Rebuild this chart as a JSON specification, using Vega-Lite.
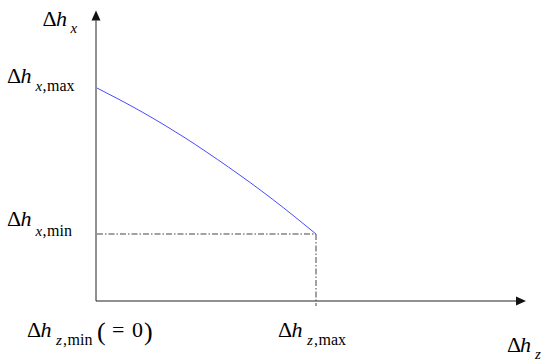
{
  "$schema": "https://vega.github.io/schema/vega-lite/v6.json",
  "width": 550,
  "height": 361,
  "padding": 0,
  "autosize": {"type": "none"},
  "background": "white",
  "config": {"view": {"stroke": null}, "text": {"font": "'Liberation Serif', 'Times New Roman', 'DejaVu Serif', serif"}},
  "datasets": {
    "axes": [
      {"x": 0, "y": 0, "x2": 0, "y2": 280.5},
      {"x": 0, "y": 0, "x2": 420, "y2": 0}
    ],
    "arrows": [
      {"x": 0, "y": 285.5, "dir": "up"},
      {"x": 425, "y": 0, "dir": "right"}
    ],
    "guides": [
      {"x": 1, "y": 67, "x2": 220, "y2": 67},
      {"x": 220, "y": 67, "x2": 220, "y2": -5}
    ],
    "curve": [
      {"x": 1, "y": 213},
      {"x": 23, "y": 201.6},
      {"x": 45, "y": 189.6},
      {"x": 67, "y": 176.8},
      {"x": 89, "y": 163.2},
      {"x": 110.5, "y": 149},
      {"x": 132.4, "y": 134},
      {"x": 154.3, "y": 118.4},
      {"x": 176.2, "y": 102},
      {"x": 198.1, "y": 84.8},
      {"x": 220, "y": 67}
    ],
    "labels": [
      {"text": "Δ", "x": -53.5, "y": 275, "style": "up", "level": "main"},
      {"text": "h", "x": -40, "y": 275, "style": "it", "level": "main"},
      {"text": "x", "x": -25.5, "y": 268, "style": "it", "level": "sub"},

      {"text": "Δ", "x": -89, "y": 218, "style": "up", "level": "main"},
      {"text": "h", "x": -75.5, "y": 218, "style": "it", "level": "main"},
      {"text": "x", "x": -60.5, "y": 210, "style": "it", "level": "sub"},
      {"text": ",", "x": -53.5, "y": 210, "style": "up", "level": "sub"},
      {"text": "max", "x": -49, "y": 210, "style": "up", "level": "sub"},

      {"text": "Δ", "x": -89, "y": 75, "style": "up", "level": "main"},
      {"text": "h", "x": -75.5, "y": 75, "style": "it", "level": "main"},
      {"text": "x", "x": -60.5, "y": 65, "style": "it", "level": "sub"},
      {"text": ",", "x": -53.5, "y": 65, "style": "up", "level": "sub"},
      {"text": "min", "x": -49, "y": 65, "style": "up", "level": "sub"},

      {"text": "Δ", "x": -69, "y": -36, "style": "up", "level": "main"},
      {"text": "h", "x": -55.5, "y": -36, "style": "it", "level": "main"},
      {"text": "z", "x": -40, "y": -44, "style": "it", "level": "sub"},
      {"text": ",", "x": -33, "y": -44, "style": "up", "level": "sub"},
      {"text": "min", "x": -28.5, "y": -44, "style": "up", "level": "sub"},
      {"text": "(", "x": 1, "y": -39, "style": "up", "level": "paren"},
      {"text": "=", "x": 16, "y": -36, "style": "up", "level": "main"},
      {"text": "0", "x": 36, "y": -36, "style": "up", "level": "main"},
      {"text": ")", "x": 48, "y": -39, "style": "up", "level": "paren"},

      {"text": "Δ", "x": 182, "y": -36, "style": "up", "level": "main"},
      {"text": "h", "x": 195.5, "y": -36, "style": "it", "level": "main"},
      {"text": "z", "x": 211, "y": -44, "style": "it", "level": "sub"},
      {"text": ",", "x": 218, "y": -44, "style": "up", "level": "sub"},
      {"text": "max", "x": 222.5, "y": -44, "style": "up", "level": "sub"},

      {"text": "Δ", "x": 411, "y": -51, "style": "up", "level": "main"},
      {"text": "h", "x": 424, "y": -51, "style": "it", "level": "main"},
      {"text": "z", "x": 439, "y": -58, "style": "it", "level": "sub"}
    ]
  },
  "layer": [
    {
      "data": {"name": "axes"},
      "mark": {"type": "rule", "color": "#222", "strokeWidth": 1},
      "encoding": {
        "x": {"field": "x", "type": "quantitative", "scale": {"domain": [-96, 454]}, "axis": null},
        "y": {"field": "y", "type": "quantitative", "scale": {"domain": [-60, 301]}, "axis": null},
        "x2": {"field": "x2"},
        "y2": {"field": "y2"}
      }
    },
    {
      "data": {"name": "arrows"},
      "mark": {"type": "point", "filled": true, "color": "#111", "opacity": 1, "size": 100, "strokeWidth": 0},
      "encoding": {
        "x": {"field": "x", "type": "quantitative", "scale": {"domain": [-96, 454]}, "axis": null},
        "y": {"field": "y", "type": "quantitative", "scale": {"domain": [-60, 301]}, "axis": null},
        "shape": {"field": "dir", "type": "nominal", "scale": {"domain": ["up", "right"], "range": ["M0,-1L0.9,1L-0.9,1Z", "M1,0L-1,0.9L-1,-0.9Z"]}, "legend": null}
      }
    },
    {
      "data": {"name": "guides"},
      "mark": {"type": "rule", "color": "#444", "strokeWidth": 1, "strokeDash": [6, 2, 1.5, 2]},
      "encoding": {
        "x": {"field": "x", "type": "quantitative", "scale": {"domain": [-96, 454]}, "axis": null},
        "y": {"field": "y", "type": "quantitative", "scale": {"domain": [-60, 301]}, "axis": null},
        "x2": {"field": "x2"},
        "y2": {"field": "y2"}
      }
    },
    {
      "data": {"name": "curve"},
      "mark": {"type": "line", "color": "#4a4aff", "strokeWidth": 1, "interpolate": "natural"},
      "encoding": {
        "x": {"field": "x", "type": "quantitative", "scale": {"domain": [-96, 454]}, "axis": null},
        "y": {"field": "y", "type": "quantitative", "scale": {"domain": [-60, 301]}, "axis": null}
      }
    },
    {
      "data": {"name": "labels"},
      "transform": [{"filter": "datum.style == 'up' && datum.level == 'main'"}],
      "mark": {"type": "text", "fontSize": 22, "align": "left", "baseline": "alphabetic", "color": "black"},
      "encoding": {
        "x": {"field": "x", "type": "quantitative", "scale": {"domain": [-96, 454]}, "axis": null},
        "y": {"field": "y", "type": "quantitative", "scale": {"domain": [-60, 301]}, "axis": null},
        "text": {"field": "text"}
      }
    },
    {
      "data": {"name": "labels"},
      "transform": [{"filter": "datum.level == 'paren'"}],
      "mark": {"type": "text", "fontSize": 26, "align": "left", "baseline": "alphabetic", "color": "black"},
      "encoding": {
        "x": {"field": "x", "type": "quantitative", "scale": {"domain": [-96, 454]}, "axis": null},
        "y": {"field": "y", "type": "quantitative", "scale": {"domain": [-60, 301]}, "axis": null},
        "text": {"field": "text"}
      }
    },
    {
      "data": {"name": "labels"},
      "transform": [{"filter": "datum.style == 'it' && datum.level == 'main'"}],
      "mark": {"type": "text", "fontSize": 22, "fontStyle": "italic", "align": "left", "baseline": "alphabetic", "color": "black"},
      "encoding": {
        "x": {"field": "x", "type": "quantitative", "scale": {"domain": [-96, 454]}, "axis": null},
        "y": {"field": "y", "type": "quantitative", "scale": {"domain": [-60, 301]}, "axis": null},
        "text": {"field": "text"}
      }
    },
    {
      "data": {"name": "labels"},
      "transform": [{"filter": "datum.style == 'it' && datum.level == 'sub'"}],
      "mark": {"type": "text", "fontSize": 15, "fontStyle": "italic", "align": "left", "baseline": "alphabetic", "color": "black"},
      "encoding": {
        "x": {"field": "x", "type": "quantitative", "scale": {"domain": [-96, 454]}, "axis": null},
        "y": {"field": "y", "type": "quantitative", "scale": {"domain": [-60, 301]}, "axis": null},
        "text": {"field": "text"}
      }
    },
    {
      "data": {"name": "labels"},
      "transform": [{"filter": "datum.style == 'up' && datum.level == 'sub'"}],
      "mark": {"type": "text", "fontSize": 16, "align": "left", "baseline": "alphabetic", "color": "black"},
      "encoding": {
        "x": {"field": "x", "type": "quantitative", "scale": {"domain": [-96, 454]}, "axis": null},
        "y": {"field": "y", "type": "quantitative", "scale": {"domain": [-60, 301]}, "axis": null},
        "text": {"field": "text"}
      }
    }
  ]
}
